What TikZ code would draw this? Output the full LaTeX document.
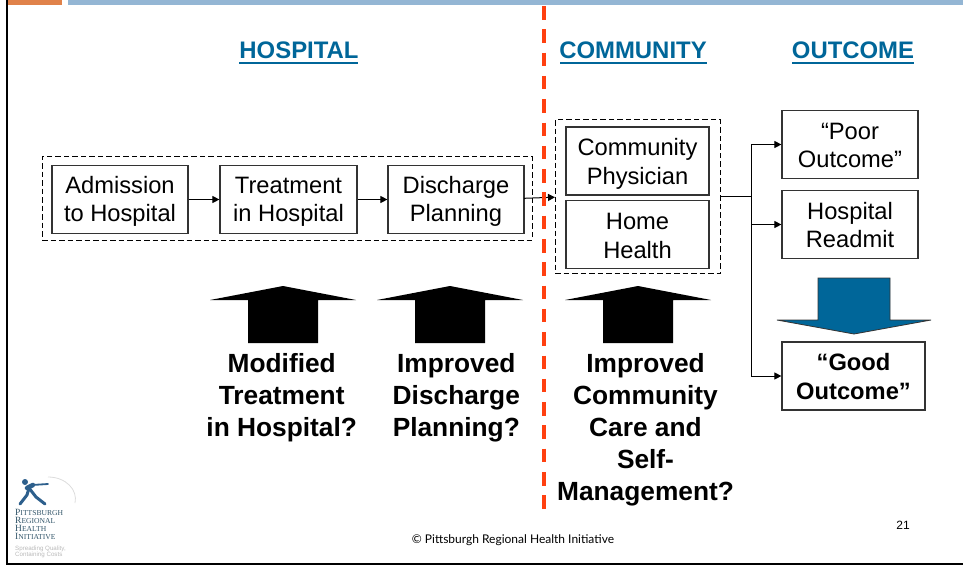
\documentclass[tikz,border=0pt]{standalone}
\usepackage{fontspec}
\setmainfont{Liberation Sans}
\newfontfamily\footerfont{Lato}
\newfontfamily\logofont{Liberation Serif}
\definecolor{TitleBlue}{RGB}{0, 102, 153}
\definecolor{TopOrange}{RGB}{224, 130, 74}
\definecolor{TopBlue}{RGB}{148, 182, 212}
\definecolor{SplitRed}{RGB}{255, 64, 16}
\definecolor{LogoBlue}{RGB}{45, 95, 140}
\definecolor{LogoText}{RGB}{50, 85, 105}
\definecolor{LogoGray}{RGB}{185, 185, 185}
\usetikzlibrary{arrows.meta}
\newcommand{\logocap}[2]{{\fontsize{9.5}{8}\selectfont #1}{\fontsize{7.6}{8}\selectfont #2}}
\newcommand{\lift}[1]{\rule{0pt}{#1pt}}
\tikzset{
    flowbox/.style={draw=black!80, line width=1.2pt, inner sep=0pt, align=center, minimum height=68pt, text=black, font=\fontsize{23.7}{28.5}\selectfont},
    groupbox/.style={draw, dash pattern=on 5.5pt off 3pt, line width=0.9pt, inner sep=0pt},
    flow/.style={-{Triangle[length=7pt, width=7pt]}, line width=1pt},
    heading/.style={font=\bfseries\fontsize{23.9}{28}\selectfont, color=TitleBlue, inner sep=0pt},
    question/.style={font=\bfseries\fontsize{26.3}{32}\selectfont, align=center, inner sep=0pt}
}
\begin{document}
\begin{tikzpicture}[x=1pt, y=-1pt]
    \useasboundingbox (0,0) rectangle (963,565);

    % Slide frame
    \fill[TopOrange] (8,0) rectangle (62,5);
    \fill[TopBlue] (68,0) rectangle (963,5);
    \fill[black] (6,0) rectangle (8,565);
    \fill[black] (6,563) rectangle (963,565);

    % Headings
    \node[heading] (hospitalhead) at (299,50) {HOSPITAL};
    \node[heading] (communityhead) at (633,50) {COMMUNITY};
    \node[heading] (outcomehead) at (853,50) {OUTCOME};
    \fill[TitleBlue] (239,61.5) rectangle (358,64);
    \fill[TitleBlue] (560,61.5) rectangle (707,64);
    \fill[TitleBlue] (792,61.5) rectangle (914,64);

    % Dashed groups
    \node[groupbox, minimum width=490pt, minimum height=84pt] (hospitalgroup) at (287,198) {};
    \node[groupbox, minimum width=165pt, minimum height=154pt] (communitygroup) at (637.5,196.7) {};

    % Hospital steps
    \node[flowbox, minimum width=136pt] (admission) at (120,199.5) {\lift{20.5}Admission\\to Hospital};
    \node[flowbox, minimum width=137pt] (treatment) at (288.5,199.5) {\lift{20.5}Treatment\\in Hospital};
    \node[flowbox, minimum width=136pt] (discharge) at (456,199.5) {\lift{20.5}Discharge\\Planning};

    % Community services
    \node[flowbox, minimum width=143pt] (physician) at (637.5,161) {\lift{22.5}Community\\Physician};
    \node[flowbox, minimum width=143pt] (homehealth) at (637.5,234.5) {\lift{19}Home\\Health};

    % Outcomes
    \node[flowbox, minimum width=136pt] (pooroutcome) at (850,144.5) {\lift{18.5}``Poor\\Outcome''};
    \node[flowbox, minimum width=136pt] (readmit) at (850,224.5) {\lift{18.5}Hospital\\Readmit};
    \node[flowbox, minimum width=143pt, font=\bfseries\fontsize{23.7}{28.5}\selectfont] (goodoutcome) at (853.5,376) {\lift{18.5}``Good\\Outcome''};

    % Connectors
    \coordinate (branch) at (751,196.7);
    \coordinate (dischargeout) at (524,198.3);
    \coordinate (communityin) at (555,197.2);
    \draw[flow] (admission) -- (treatment);
    \draw[flow] (treatment) -- (discharge);
    \draw[flow] (dischargeout) -- (communityin);
    \draw[line width=1pt] (communitygroup.east) -- (branch);
    \draw[flow] (branch) |- (pooroutcome);
    \draw[flow] (branch) |- (readmit);
    \draw[flow] (branch) |- (goodoutcome);

    % Split between hospital and community
    \coordinate (splittop) at (544,6);
    \coordinate (splitbottom) at (544,510);
    \draw[SplitRed, line width=3.3pt, dash pattern=on 13.5pt off 9.8pt] (splittop) -- (splitbottom);

    % Block arrows
    \foreach \x in {283,450,638} {
        \fill[black] (\x,286) -- ({\x+73},300) -- ({\x+35},300) -- ({\x+35},343) -- ({\x-35},343) -- ({\x-35},300) -- ({\x-73},300) -- cycle;
    }
    \filldraw[fill=TitleBlue, draw=black!80, line width=0.8pt] (818,278) -- (890,278) -- (890,320) -- (931,320) -- (854,334) -- (777,320) -- (818,320) -- cycle;

    % Questions
    \node[question] (modified) at (281.7,398) {Modified\\Treatment\\in Hospital?};
    \node[question] (improveddischarge) at (456.3,398) {Improved\\Discharge\\Planning?};
    \node[question] (improvedcare) at (645.5,430) {Improved\\Community\\Care and\\Self-\\Management?};

    % Footer
    \node[font=\footerfont\fontsize{12}{14}\selectfont, inner sep=0pt] (footer) at (513,540) {© Pittsburgh Regional Health Initiative};
    \node[font=\fontsize{12}{14}\selectfont, inner sep=0pt] (pagenumber) at (903,525) {21};

    % Logo
    \draw[LogoGray!50, line width=0.8pt] (48,477) .. controls (66,477) and (78,490) .. (75,503);
    \draw[LogoBlue, line width=3pt, line cap=round] (20,504) -- (27,495) -- (29,488) -- (36,497) -- (45,504);
    \draw[LogoBlue, line width=4.5pt, line cap=round] (27,488) -- (33,485);
    \draw[LogoBlue, line width=1.8pt, line cap=round] (32,485) -- (48,484);
    \fill[LogoBlue] (25,482) circle (3pt);
    \node[font=\logofont\fontsize{8}{8}\selectfont, color=LogoText, inner sep=0pt, anchor=north west, align=left] (logotext) at (15,509) {\logocap{P}{ITTSBURGH}\\\logocap{R}{EGIONAL}\\\logocap{H}{EALTH}\\\logocap{I}{NITIATIVE}};
    \node[font=\fontsize{6.2}{6.6}\selectfont, color=LogoGray, inner sep=0pt, anchor=north west, align=left] (logotag) at (15,545.5) {Spreading Quality,\\Containing Costs};
\end{tikzpicture}
\end{document}
